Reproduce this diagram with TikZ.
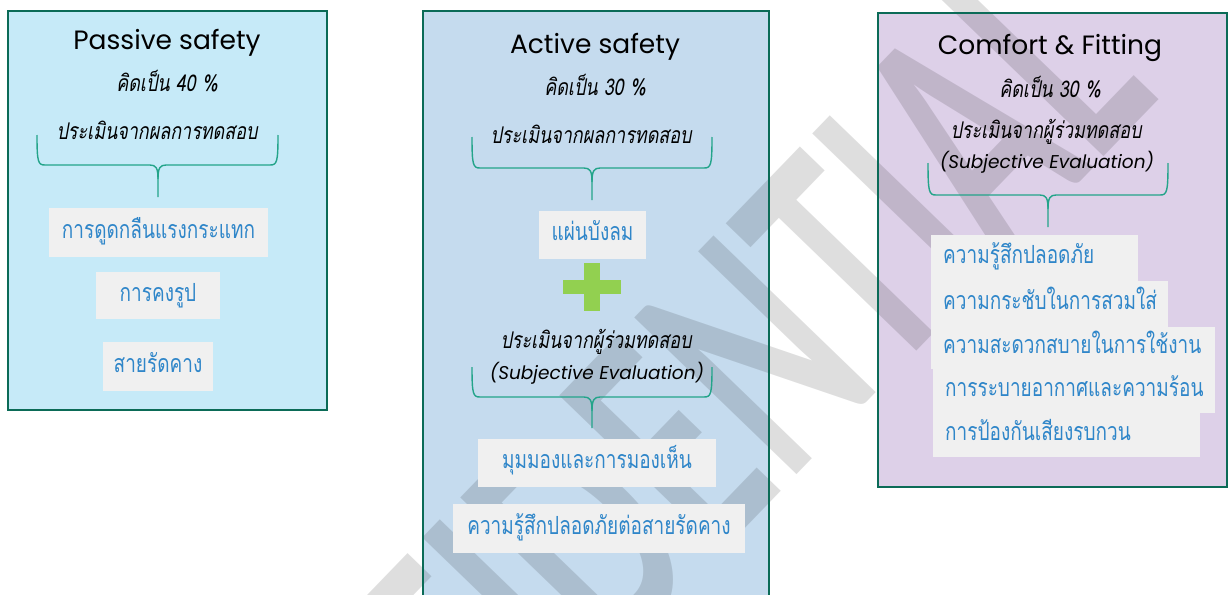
\documentclass[tikz,border=0pt]{standalone}
\usepackage{fontspec}
\newfontfamily\thai[Script=Thai,FakeStretch=0.76]{Loma}
\newfontfamily\thaiit[Script=Thai,FakeStretch=0.78,FakeSlant=0.18]{Loma}
\newfontfamily\latf{Poppins}
\newfontfamily\wmf[FakeStretch=0.6]{Lato}
\definecolor{passfill}{HTML}{C6EAF8}
\definecolor{actfill}{HTML}{C5DBEE}
\definecolor{comffill}{HTML}{DDD0E8}
\definecolor{panelborder}{HTML}{0B6B57}
\definecolor{bracecol}{HTML}{23A48A}
\definecolor{boxgray}{HTML}{F0F0F0}
\definecolor{tblue}{HTML}{2F86C9}
\definecolor{plusgreen}{HTML}{92D050}
\newcommand\mybrace[6]{%
  \draw[bracestyle] (#1,#3) .. controls (#1,{#4-3}) and ({#1+1},#4) .. ({#1+8},#4) -- ({#6-8},#4) .. controls ({#6-2},#4) and (#6,{#4+3}) .. (#6,{#4+14}) -- (#6,#5);
  \draw[bracestyle] (#2,#3) .. controls (#2,{#4-3}) and ({#2-1},#4) .. ({#2-8},#4) -- ({#6+8},#4) .. controls ({#6+2},#4) and (#6,{#4+3}) .. (#6,{#4+14});
}
\begin{document}
\begin{tikzpicture}[x=1pt,y=-1pt,
  bracestyle/.style={draw=bracecol,line width=1.4pt},
  borderstyle/.style={draw=panelborder,line width=2.8pt},
  titletext/.style={anchor=base,inner sep=0,font=\latf\fontsize{26.5}{30}\selectfont},
  subtext/.style={anchor=base,inner sep=0,font=\thaiit\fontsize{23}{26}\selectfont},
  entext/.style={anchor=base,inner sep=0,font=\latf\itshape\fontsize{18.5}{22}\selectfont},
  gbox/.style={fill=boxgray,text=tblue,inner sep=0,font=\thai\fontsize{25}{29}\selectfont,text height=17pt,text depth=6pt},
  lbox/.style={gbox,anchor=north west,inner xsep=12pt,align=left,minimum height=46pt},
  wmtext/.style={anchor=base,inner sep=0,rotate=46,text=black,text opacity=0.13,font=\wmf\bfseries\fontsize{312}{312}\selectfont}
]
\useasboundingbox (0,0) rectangle (1228,594);
\clip (0,0) rectangle (1228,594);
\fill[white] (0,0) rectangle (1228,594);
% panel fills
\fill[passfill] (8,11) rectangle (327,410);
\fill[actfill] (423,11) rectangle (769,610);
\fill[comffill] (878,13) rectangle (1227,487);
% watermark
\node[wmtext] (wm) at (686,590) {CONFIDENTIAL};
% panel borders
\draw[borderstyle] (8,11) rectangle (327,410);
\draw[borderstyle] (423,11) rectangle (769,610);
\draw[borderstyle] (878,13) rectangle (1227,487);

% ---- Passive safety
\node[titletext] (t1) at (167,50) {Passive safety};
\node[subtext] (p1a) at (167,92) {คิดเป็น 40 \%};
\node[subtext] (p1b) at (157,139) {ประเมินจากผลการทดสอบ};
\mybrace{37}{278}{135}{165}{197}{158}
\node[gbox,minimum width=219pt,minimum height=49pt] (b11) at (158.5,232.5) {การดูดกลืนแรงกระแทก};
\node[gbox,minimum width=124pt,minimum height=47pt] (b12) at (158,295.5) {การคงรูป};
\node[gbox,minimum width=110pt,minimum height=49pt] (b13) at (158,366.5) {สายรัดคาง};

% ---- Active safety
\node[titletext] (t2) at (595,53) {Active safety};
\node[subtext] (p2a) at (595,95) {คิดเป็น 30 \%};
\node[subtext] (p2b) at (591,143) {ประเมินจากผลการทดสอบ};
\mybrace{472}{712}{137}{168}{200}{592}
\node[gbox,minimum width=107pt,minimum height=48pt] (b21) at (592.5,235) {แผ่นบังลม};
\fill[plusgreen] (563,280) rectangle (621,294);
\fill[plusgreen] (584,263) rectangle (600,311);
\node[subtext] (p2c) at (596,348) {ประเมินจากผู้ร่วมทดสอบ};
\node[entext] (p2d) at (597,379) {(Subjective Evaluation)};
\mybrace{472}{712}{367}{397}{428}{592}
\node[gbox,minimum width=238pt,minimum height=48pt] (b22) at (597,463) {มุมมองและการมองเห็น};
\node[gbox,minimum width=292pt,minimum height=49pt] (b23) at (599,528.5) {ความรู้สึกปลอดภัยต่อสายรัดคาง};

% ---- Comfort & Fitting
\node[titletext] (t3) at (1050,55) {Comfort \& Fitting};
\node[subtext] (p3a) at (1050,97) {คิดเป็น 30 \%};
\node[subtext] (p3b) at (1046,138) {ประเมินจากผู้ร่วมทดสอบ};
\node[entext] (p3c) at (1047,168) {(Subjective Evaluation)};
\mybrace{928}{1168}{163}{195}{227}{1048}
\node[lbox,text width=183pt] (b31) at (931,235) {ความรู้สึกปลอดภัย};
\node[lbox,text width=213pt] (b32) at (931,281) {ความกระชับในการสวมใส่};
\node[lbox,text width=260pt,minimum height=42pt] (b33) at (931,327) {ความสะดวกสบายในการใช้งาน};
\node[lbox,text width=258pt,minimum height=44pt] (b34) at (933,369) {การระบายอากาศและความร้อน};
\node[lbox,text width=243pt,minimum height=44pt] (b35) at (933,413) {การป้องกันเสียงรบกวน};
\end{tikzpicture}
\end{document}
